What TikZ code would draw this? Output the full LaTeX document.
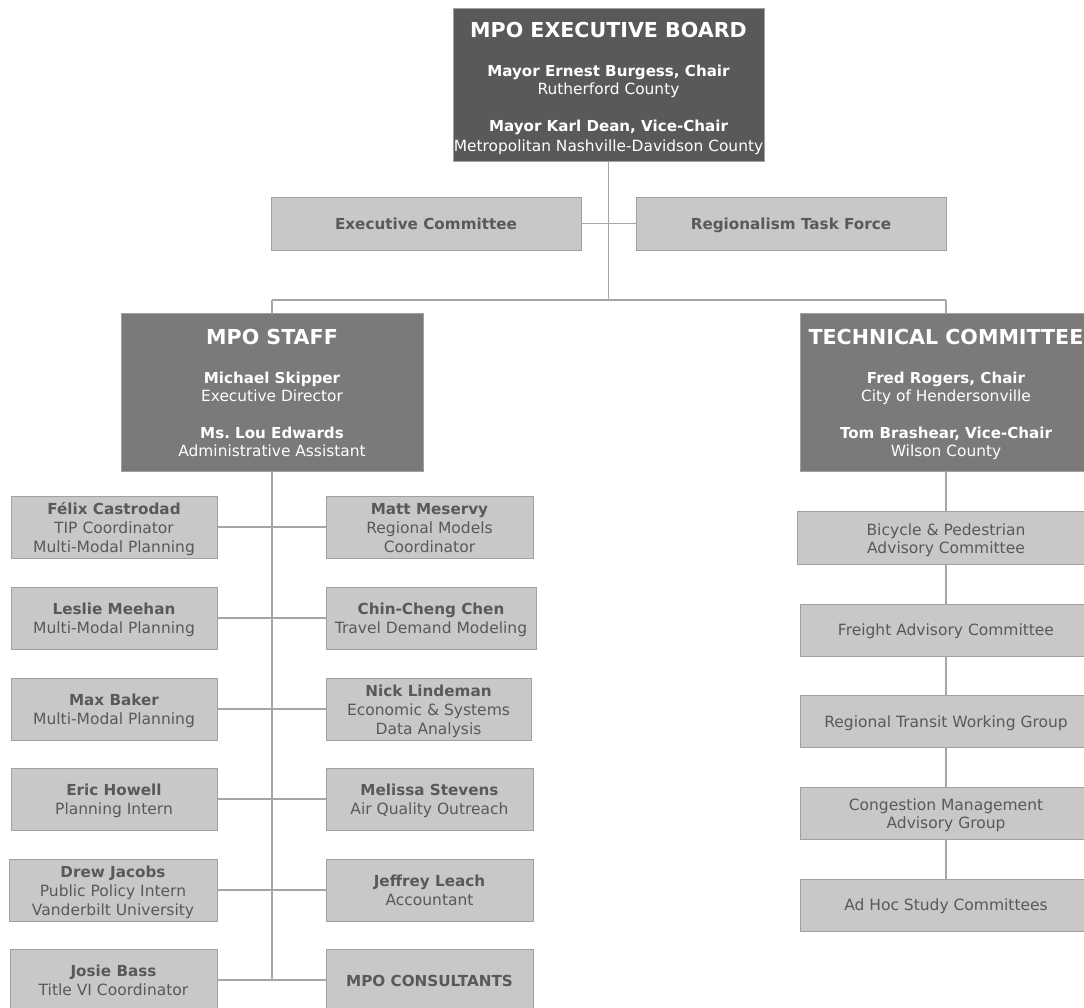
\documentclass[tikz,border=0pt]{standalone}
\usepackage{fontspec}
\setmainfont{DejaVu Sans}
\definecolor{boardfill}{HTML}{595959}
\definecolor{headfill}{HTML}{7A7A7A}
\definecolor{lightfill}{HTML}{C8C8C8}
\definecolor{edgegray}{HTML}{A0A0A0}
\definecolor{txtgray}{HTML}{595959}
\definecolor{linegray}{HTML}{A6A6A6}
\newcommand\bx[6]{\node[#2, minimum width=#5pt, minimum height=#6pt] (#1) at (#3,#4) {};}
\newcommand\lineat[5]{\node[#4] (#1) at (#2,#3) {#5};}
\frenchspacing
\tikzset{
  boxbase/.style={draw=edgegray, line width=1pt, inner sep=0pt, outer sep=0pt},
  boardbox/.style={boxbase, fill=boardfill},
  headbox/.style={boxbase, fill=headfill},
  lbox/.style={boxbase, fill=lightfill},
  conn/.style={draw=linegray, line width=1.2pt},
  lnbase/.style={anchor=base, inner sep=0pt, outer sep=0pt},
  ttl/.style={lnbase, text=white, font=\fontsize{20.6}{24}\selectfont\bfseries},
  wb/.style={lnbase, text=white, font=\fontsize{15.1}{18}\selectfont\bfseries},
  wr/.style={lnbase, text=white, font=\fontsize{15.4}{18}\selectfont},
  db/.style={lnbase, text=txtgray, font=\fontsize{15.2}{18}\selectfont\bfseries},
  dr/.style={lnbase, text=txtgray, font=\fontsize{15.5}{18}\selectfont},
}
\begin{document}
\begin{tikzpicture}[x=1pt,y=-1pt]
\useasboundingbox (0,0) rectangle (1084,1007);
\fill[white] (0,0) rectangle (1084,1007);
\clip (0,0) rectangle (1084,1007);

% ---------- boxes ----------
\bx{board}{boardbox}{608.5}{84.5}{311}{153}
\bx{excom}{lbox}{426}{223.5}{310}{53}
\bx{regtf}{lbox}{791}{223.5}{310}{53}
\bx{staff}{headbox}{272}{392}{302}{158}
\bx{tech}{headbox}{946}{392}{292}{158}

\bx{felix}{lbox}{114}{527}{206}{62}
\bx{leslie}{lbox}{114}{618}{206}{62}
\bx{max}{lbox}{114}{709}{206}{62}
\bx{eric}{lbox}{114}{799}{206}{62}
\bx{drew}{lbox}{113}{890}{208}{62}
\bx{josie}{lbox}{113.5}{980}{207}{62}

\bx{matt}{lbox}{429.5}{527}{207}{62}
\bx{chin}{lbox}{431}{618}{210}{62}
\bx{nick}{lbox}{428.5}{709}{205}{62}
\bx{melissa}{lbox}{429.5}{799}{207}{62}
\bx{jeff}{lbox}{429.5}{890}{207}{62}
\bx{consult}{lbox}{429.5}{980}{207}{62}

\bx{bike}{lbox}{946}{537.5}{298}{53}
\bx{freight}{lbox}{946}{630}{292}{52}
\bx{transit}{lbox}{946}{721.5}{292}{52}
\bx{cong}{lbox}{946}{813}{292}{52}
\bx{adhoc}{lbox}{946}{905}{292}{52}

% ---------- connectors ----------
\coordinate (jA) at (608.5,300);
\coordinate (jL) at (272,300);
\coordinate (jR) at (946,300);
\coordinate (sEnd) at (272,980);
\draw[conn] (board.south) -- (jA);
\draw[conn] (excom.east) -- (regtf.west);
\draw[conn] (jL) -- (jR);
\draw[conn] (jL) -- (staff.north);
\draw[conn] (jR) -- (tech.north);
\draw[conn] (staff.south) -- (sEnd);
\draw[conn] (felix.east) -- (matt.west);
\draw[conn] (leslie.east) -- (chin.west);
\draw[conn] (max.east) -- (nick.west);
\draw[conn] (eric.east) -- (melissa.west);
\draw[conn] (drew.east) -- (jeff.west);
\draw[conn] (josie.east) -- (consult.west);
\draw[conn] (tech.south) -- (bike.north);
\draw[conn] (bike.south) -- (freight.north);
\draw[conn] (freight.south) -- (transit.north);
\draw[conn] (transit.south) -- (cong.north);
\draw[conn] (cong.south) -- (adhoc.north);

% ---------- texts ----------
\lineat{b1}{608.5}{37}{ttl}{MPO EXECUTIVE BOARD}
\lineat{b2}{608.5}{76}{wb}{Mayor Ernest Burgess, Chair}
\lineat{b3}{608.5}{94}{wr}{Rutherford County}
\lineat{b4}{608.5}{131}{wb}{Mayor Karl Dean, Vice-Chair}
\lineat{b5}{608.5}{151}{wr}{Metropolitan Nashville-Davidson County}

\lineat{e1}{426}{229}{db}{Executive Committee}
\lineat{r1}{791}{229}{db}{Regionalism Task Force}

\lineat{s1}{272}{344}{ttl}{MPO STAFF}
\lineat{s2}{272}{383}{wb}{Michael Skipper}
\lineat{s3}{272}{401}{wr}{Executive Director}
\lineat{s4}{272}{438}{wb}{Ms. Lou Edwards}
\lineat{s5}{272}{456}{wr}{Administrative Assistant}

\lineat{t1}{946}{344}{ttl}{TECHNICAL COMMITTEE}
\lineat{t2}{946}{383}{wb}{Fred Rogers, Chair}
\lineat{t3}{946}{401}{wr}{City of Hendersonville}
\lineat{t4}{946}{438}{wb}{Tom Brashear, Vice-Chair}
\lineat{t5}{946}{456}{wr}{Wilson County}

\lineat{f1}{114}{514.5}{db}{Félix Castrodad}
\lineat{f2}{114}{533.5}{dr}{TIP Coordinator}
\lineat{f3}{114}{552}{dr}{Multi-Modal Planning}
\lineat{m1}{429.5}{514.5}{db}{Matt Meservy}
\lineat{m2}{429.5}{533.5}{dr}{Regional Models}
\lineat{m3}{429.5}{552}{dr}{Coordinator}

\lineat{l1}{114}{614}{db}{Leslie Meehan}
\lineat{l2}{114}{633}{dr}{Multi-Modal Planning}
\lineat{c1}{431}{614}{db}{Chin-Cheng Chen}
\lineat{c2}{431}{633}{dr}{Travel Demand Modeling}

\lineat{x1}{114}{705}{db}{Max Baker}
\lineat{x2}{114}{724}{dr}{Multi-Modal Planning}
\lineat{n1}{428.5}{696.5}{db}{Nick Lindeman}
\lineat{n2}{428.5}{715.5}{dr}{Economic \& Systems}
\lineat{n3}{428.5}{734}{dr}{Data Analysis}

\lineat{h1}{114}{795}{db}{Eric Howell}
\lineat{h2}{114}{814}{dr}{Planning Intern}
\lineat{v1}{429.5}{795}{db}{Melissa Stevens}
\lineat{v2}{429.5}{814}{dr}{Air Quality Outreach}

\lineat{d1}{113}{877.5}{db}{Drew Jacobs}
\lineat{d2}{113}{896.5}{dr}{Public Policy Intern}
\lineat{d3}{113}{915}{dr}{Vanderbilt University}
\lineat{j1}{429.5}{886}{db}{Jeffrey Leach}
\lineat{j2}{429.5}{905}{dr}{Accountant}

\lineat{o1}{113.5}{976}{db}{Josie Bass}
\lineat{o2}{113.5}{995}{dr}{Title VI Coordinator}
\lineat{k1}{429.5}{986}{db}{MPO CONSULTANTS}

\lineat{p1}{946}{535}{dr}{Bicycle \& Pedestrian}
\lineat{p2}{946}{553}{dr}{Advisory Committee}
\lineat{g1}{946}{635.5}{dr}{Freight Advisory Committee}
\lineat{g2}{946}{727}{dr}{Regional Transit Working Group}
\lineat{g3}{946}{810}{dr}{Congestion Management}
\lineat{g4}{946}{828}{dr}{Advisory Group}
\lineat{g5}{946}{910.5}{dr}{Ad Hoc Study Committees}
\end{tikzpicture}
\end{document}
